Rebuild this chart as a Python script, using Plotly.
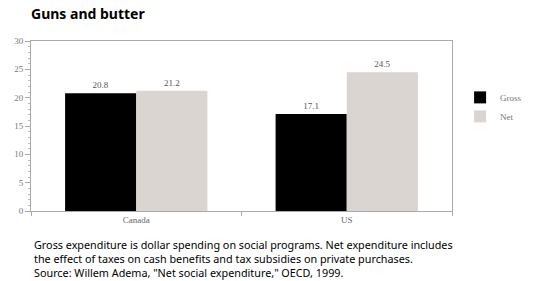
import plotly.graph_objects as go

categories = ["Canada", "US"]
gross = [20.8, 17.1]
net = [21.2, 24.5]
gross_labels = ["20.8", "17.1"]
net_labels = ["21.2", "24.5"]

fig = go.Figure()
fig.add_trace(go.Bar(x=categories, y=gross, name="Gross", marker=dict(color="#000000", line=dict(width=0)),
                     text=gross_labels, textposition="outside",
                     textfont=dict(family="Liberation Serif", size=9, color="#555555"), cliponaxis=False))
fig.add_trace(go.Bar(x=categories, y=net, name="Net", marker=dict(color="#dbd5d2", line=dict(width=0)),
                     text=net_labels, textposition="outside",
                     textfont=dict(family="Liberation Serif", size=9, color="#555555"), cliponaxis=False))

fig.update_layout(
    width=540, height=281,
    margin=dict(l=31, r=88, t=41, b=70, autoexpand=False),
    paper_bgcolor="white", plot_bgcolor="white",
    barmode="group", bargap=0.324, bargroupgap=0,
    showlegend=True,
    legend=dict(xref="container", yref="container", x=0.852, y=0.705, xanchor="left", yanchor="top",
                font=dict(family="Liberation Serif", size=9, color="#777777"),
                tracegroupgap=4, itemwidth=30),
    xaxis=dict(showline=True, linecolor="#aaaaaa", linewidth=1, mirror=True,
               ticks="outside", tickson="boundaries", ticklen=4, tickcolor="#aaaaaa",
               tickfont=dict(family="Liberation Serif", size=9, color="#666666"),
               showgrid=False, zeroline=False),
    yaxis=dict(range=[0, 30], tickvals=[0, 5, 10, 15, 20, 25, 30],
               showline=True, linecolor="#aaaaaa", linewidth=1, mirror=True,
               ticks="outside", ticklen=5, tickcolor="#aaaaaa",
               minor=dict(ticks="outside", ticklen=2, dtick=1, tickcolor="#bbbbbb"),
               tickfont=dict(family="Liberation Serif", size=9, color="#777777"),
               showgrid=False, zeroline=False),
    annotations=[
        dict(text="<b>Guns and butter</b>", xref="paper", yref="paper", x=-0.005, y=1.0,
             yshift=39, xanchor="left", yanchor="top", showarrow=False,
             font=dict(family="Noto Sans", size=14, color="#000000")),
        dict(text="Gross expenditure is dollar spending on social programs. Net expenditure includes<br>"
                  "the effect of taxes on cash benefits and tax subsidies on private purchases.<br>"
                  "Source: Willem Adema, \"Net social expenditure,\" OECD, 1999.",
             xref="paper", yref="paper", x=0.003, y=0, yshift=-24, xanchor="left", yanchor="top",
             align="left", showarrow=False,
             font=dict(family="Noto Sans", size=10.8, color="#000000")),
    ],
)
fig.write_html("out.html")
